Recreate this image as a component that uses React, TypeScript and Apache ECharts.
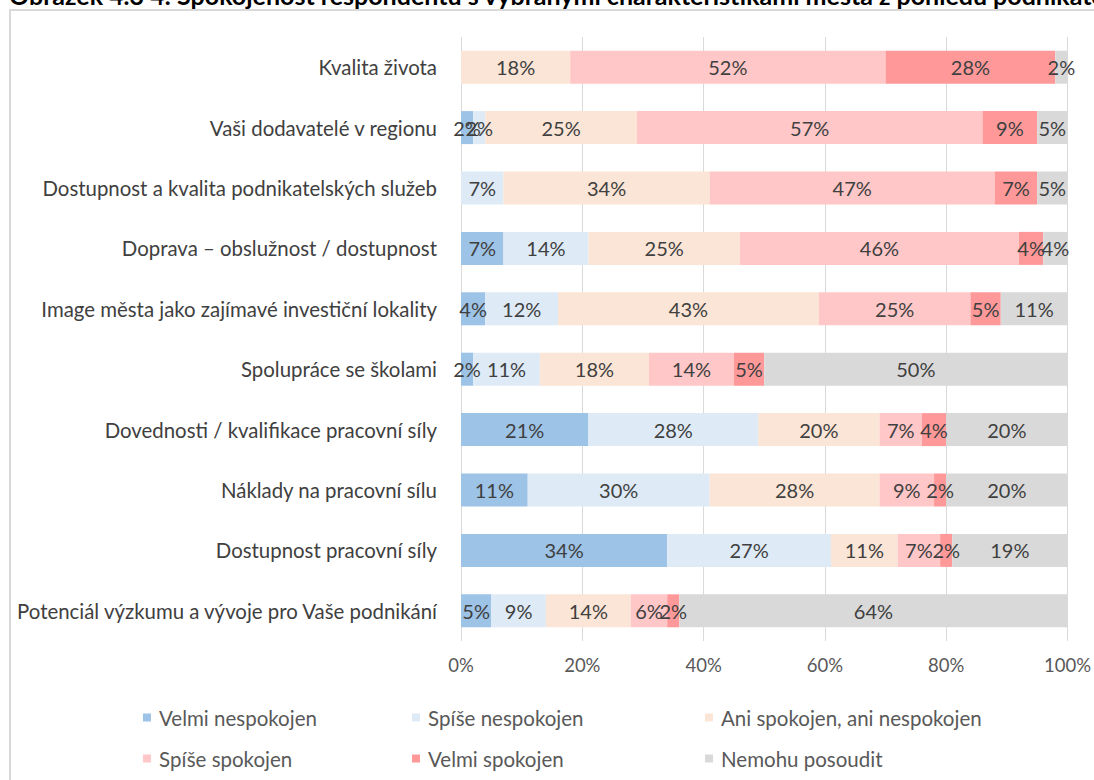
import React, { useEffect, useRef } from "react";
import * as echarts from "echarts";

const categories = [
  "Kvalita života",
  "Vaši dodavatelé v regionu",
  "Dostupnost a kvalita podnikatelských služeb",
  "Doprava – obslužnost / dostupnost",
  "Image města jako zajímavé investiční lokality",
  "Spolupráce se školami",
  "Dovednosti / kvalifikace pracovní síly",
  "Náklady na pracovní sílu",
  "Dostupnost pracovní síly",
  "Potenciál výzkumu a vývoje pro Vaše podnikání",
];

const seriesNames = [
  "Velmi nespokojen",
  "Spíše nespokojen",
  "Ani spokojen, ani nespokojen",
  "Spíše spokojen",
  "Velmi spokojen",
  "Nemohu posoudit",
];

const velmiNespokojen = [0, 2, 0, 7, 4, 2, 21, 11, 34, 5];
const spiseNespokojen = [0, 2, 7, 14, 12, 11, 28, 30, 27, 9];
const aniAni = [18, 25, 34, 25, 43, 18, 20, 28, 11, 14];
const spiseSpokojen = [52, 57, 47, 46, 25, 14, 7, 9, 7, 6];
const velmiSpokojen = [28, 9, 7, 4, 5, 5, 4, 2, 2, 2];
const nemohuPosoudit = [2, 5, 5, 4, 11, 50, 20, 20, 19, 64];

const xTicks = [0, 20, 40, 60, 80, 100];

const colors = ["#9DC3E6", "#DEEBF7", "#FBE5D6", "#FFC7C7", "#FF9999", "#D9D9D9"];

const title =
  "Obrázek 4.3 4: Spokojenost respondentů s vybranými charakteristikami města z pohledu podnikatelů";

const FONT = "Lato, 'Noto Sans', sans-serif";

export default function App() {
  const ref = useRef<HTMLDivElement>(null);

  useEffect(() => {
    if (!ref.current) return;
    const chart = echarts.init(ref.current, undefined, { renderer: "svg" });
    const values = [
      velmiNespokojen,
      spiseNespokojen,
      aniAni,
      spiseSpokojen,
      velmiSpokojen,
      nemohuPosoudit,
    ];
    const legendLefts = [143, 412, 705, 143, 412, 705];
    const legendTops = [707, 707, 707, 748, 748, 748];

    chart.setOption({
      animation: false,
      backgroundColor: "#ffffff",
      textStyle: { fontFamily: FONT },
      graphic: [
        {
          type: "text",
          x: 9,
          y: -5,
          style: {
            text: title,
            font: `bold 25px ${FONT}`,
            fill: "#000000",
            verticalAlign: "middle",
            align: "left",
          },
          silent: true,
        },
        {
          type: "rect",
          shape: { x: 10, y: 10, width: 1200, height: 900 },
          style: { fill: "none", stroke: "#D9D9D9", lineWidth: 2 },
          silent: true,
        },
      ],
      legend: seriesNames.map((n, i) => ({
        data: [n],
        left: legendLefts[i],
        top: legendTops[i],
        padding: 0,
        icon: "rect",
        itemWidth: 8,
        itemHeight: 8,
        selectedMode: false,
        textStyle: {
          fontSize: 20.5,
          color: "#595959",
          fontFamily: FONT,
          padding: [0, 0, 0, 3],
        },
      })),
      grid: { left: 461, right: 26, top: 37, bottom: 139, containLabel: false },
      xAxis: {
        type: "value",
        min: 0,
        max: 100,
        interval: 20,
        axisLabel: {
          formatter: (v: number) => (xTicks.includes(v) ? `${v}%` : ""),
          fontSize: 18.5,
          color: "#595959",
          fontFamily: FONT,
          margin: 14,
        },
        axisLine: { show: false },
        axisTick: { show: false },
        splitLine: { show: true, lineStyle: { color: "#D9D9D9", width: 1 } },
      },
      yAxis: {
        type: "category",
        data: categories,
        inverse: true,
        axisLine: { show: false },
        axisTick: { show: false },
        axisLabel: {
          fontSize: 20.4,
          color: "#404040",
          fontFamily: FONT,
          margin: 24,
        },
      },
      series: seriesNames.map((n, i) => ({
        name: n,
        type: "bar",
        stack: "total",
        barWidth: 33,
        itemStyle: { color: colors[i] },
        label: {
          show: true,
          position: "inside",
          fontSize: 20,
          color: "#404040",
          fontFamily: FONT,
          formatter: (p: any) => (p.value > 0 ? `${p.value}%` : ""),
        },
        data: values[i],
      })),
    });
    return () => chart.dispose();
  }, []);

  return (
    <div
      ref={ref}
      style={{ position: "fixed", left: 0, top: 0, width: 1094, height: 780 }}
    />
  );
}
